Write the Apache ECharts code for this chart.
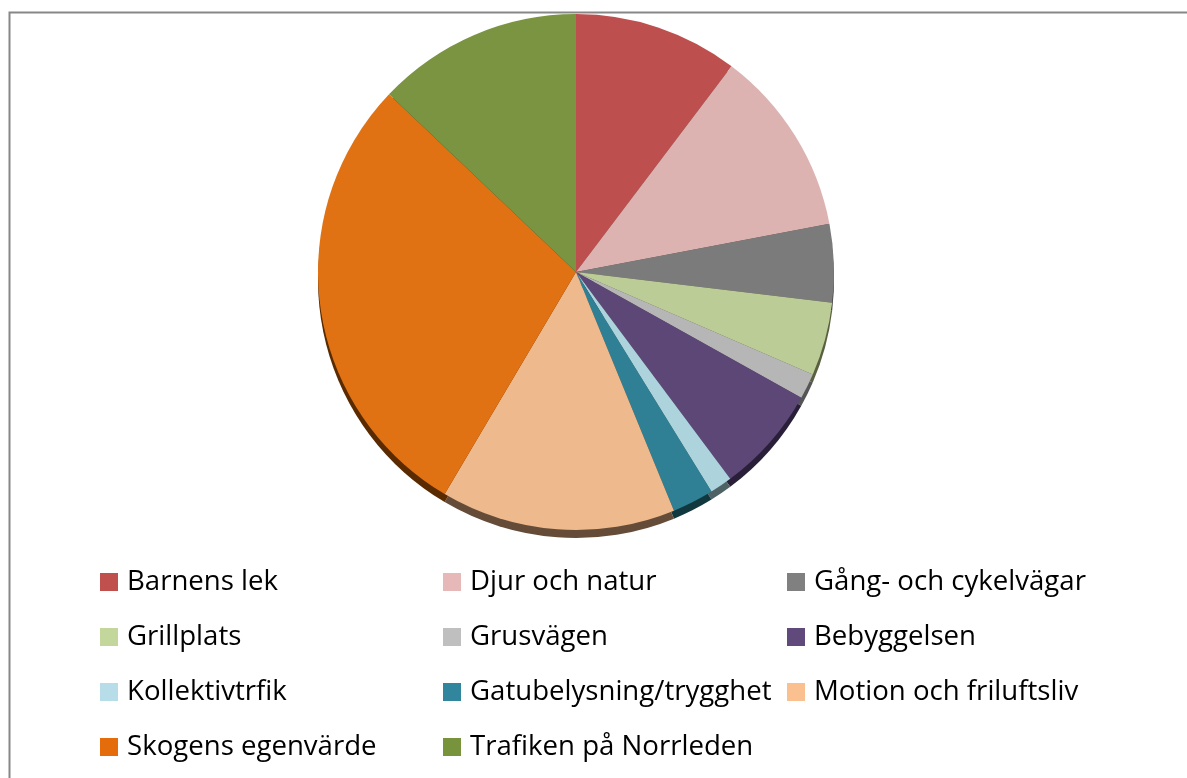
<!DOCTYPE html>
<html>
<head>
<meta charset="utf-8">
<script src="https://cdn.jsdelivr.net/npm/echarts@6/dist/echarts.min.js"></script>
<style>
html,body{margin:0;padding:0;background:#fff;}
#chart{width:1187px;height:778px;}
</style>
</head>
<body>
<div id="chart"></div>
<script>
const categories = ['Barnens lek','Djur och natur','Gång- och cykelvägar','Grillplats','Grusvägen','Bebyggelsen','Kollektivtrfik','Gatubelysning/trygghet','Motion och friluftsliv','Skogens egenvärde','Trafiken på Norrleden'];
const values = [10.3, 11.7, 4.9, 4.6, 1.6, 6.7, 1.4, 2.6, 14.7, 28.6, 12.9];
const sliceColors = ['#BD504E','#DDB3B2','#7B7B7B','#BCCC96','#B6B6B6','#5C4777','#ADD3DC','#2F8094','#EEB98C','#E07214','#7A9441'];
const edgeColors = ['#5A2524','#6A5453','#3A3A3A','#59603F','#555555','#2A1F38','#4E6266','#12383F','#644C38','#5A2A00','#37451C'];
const legendColors = ['#C0504D','#E6B9B8','#808080','#C3D69B','#BFBFBF','#604A7B','#B7DEE8','#31859C','#FAC090','#E46C0A','#77933C'];

const chart = echarts.init(document.getElementById('chart'));

const mainData = categories.map((n, i) => ({name: n, value: values[i], itemStyle: {color: sliceColors[i]}}));
const edgeData = categories.map((n, i) => ({name: n, value: values[i], itemStyle: {color: edgeColors[i]}}));

const cols = [[0,3,6,9],[1,4,7,10],[2,5,8]];
const colLeft = [100, 443, 787];
const legends = cols.map((idxs, c) => ({
  orient: 'vertical',
  left: colLeft[c],
  top: 568,
  height: 400,
  itemWidth: 18,
  itemHeight: 18,
  itemGap: 27,
  icon: 'rect',
  selectedMode: false,
  padding: 0,
  textStyle: {fontFamily: 'Open Sans', fontSize: 27.6, color: '#000', padding: [0,0,0,4]},
  data: idxs.map(i => ({name: categories[i], itemStyle: {color: legendColors[i]}}))
}));

chart.setOption({
  animation: false,
  backgroundColor: '#fff',
  graphic: [{
    type: 'rect',
    shape: {x: 9.5, y: 12.5, width: 1400, height: 1000},
    style: {fill: null, stroke: '#878787', lineWidth: 2},
    silent: true,
    z: -10
  }],
  legend: legends,
  series: [
    {
      type: 'pie',
      center: [576, 280],
      radius: [0, 258],
      startAngle: 90,
      clockwise: true,
      label: {show: false},
      labelLine: {show: false},
      silent: true,
      z: 1,
      data: edgeData
    },
    {
      type: 'pie',
      center: [576, 272],
      radius: [0, 258],
      startAngle: 90,
      clockwise: true,
      label: {show: false},
      labelLine: {show: false},
      itemStyle: {borderWidth: 0},
      silent: true,
      z: 2,
      data: mainData
    }
  ]
});
</script>
</body>
</html>
